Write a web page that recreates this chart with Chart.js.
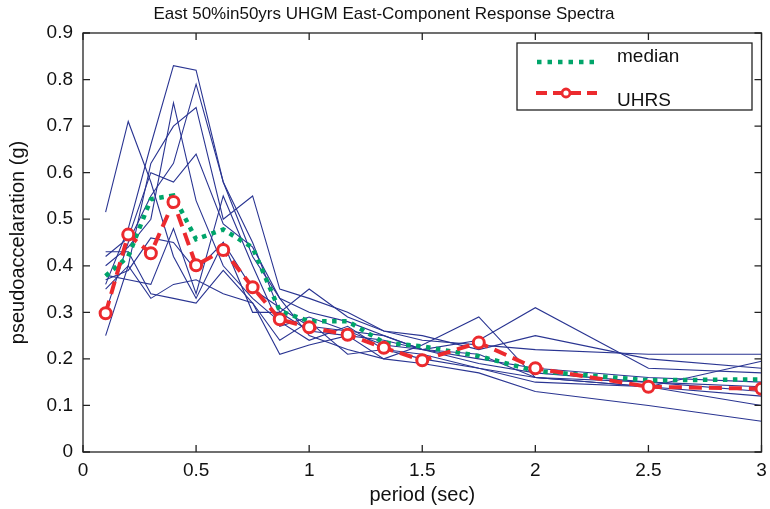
<!DOCTYPE html>
<html>
<head>
<meta charset="utf-8">
<title>East-Component Response Spectra</title>
<script src="https://cdn.jsdelivr.net/npm/chart.js@4.4.1/dist/chart.umd.min.js"></script>
<style>
  html, body { margin: 0; padding: 0; background: #fff; }
  #wrap { width: 770px; height: 509px; }
</style>
</head>
<body>
<div id="wrap"><canvas id="chart" width="770" height="509"></canvas></div>
<script>
// periods (sec) shared by every curve
const periods = [0.1, 0.2, 0.3, 0.4, 0.5, 0.62, 0.75, 0.87, 1.0, 1.17, 1.33, 1.5, 1.75, 2.0, 2.5, 3.0];

// individual ground-motion records (g)
const rec1  = [0.36, 0.48, 0.66, 0.83, 0.82, 0.58, 0.42, 0.33, 0.30, 0.28, 0.25, 0.22, 0.20, 0.18, 0.16, 0.15];
const rec2  = [0.515, 0.71, 0.58, 0.42, 0.33, 0.45, 0.35, 0.31, 0.27, 0.26, 0.23, 0.22, 0.19, 0.17, 0.15, 0.13];
const rec3  = [0.40, 0.44, 0.50, 0.75, 0.54, 0.40, 0.33, 0.28, 0.24, 0.27, 0.22, 0.21, 0.18, 0.16, 0.14, 0.12];
const rec4  = [0.30, 0.45, 0.55, 0.62, 0.79, 0.58, 0.45, 0.30, 0.26, 0.25, 0.24, 0.22, 0.21, 0.16, 0.15, 0.14];
const rec5  = [0.35, 0.40, 0.62, 0.70, 0.74, 0.50, 0.55, 0.35, 0.33, 0.30, 0.26, 0.24, 0.23, 0.22, 0.21, 0.21];
const rec6  = [0.42, 0.46, 0.60, 0.58, 0.64, 0.49, 0.44, 0.33, 0.25, 0.22, 0.20, 0.23, 0.29, 0.16, 0.14, 0.10];
const rec7  = [0.25, 0.40, 0.33, 0.36, 0.37, 0.34, 0.32, 0.21, 0.23, 0.25, 0.20, 0.19, 0.17, 0.13, 0.10, 0.066];
const rec8  = [0.43, 0.43, 0.34, 0.33, 0.32, 0.39, 0.32, 0.24, 0.28, 0.21, 0.22, 0.20, 0.18, 0.15, 0.14, 0.195];
const rec9  = [0.38, 0.37, 0.36, 0.48, 0.34, 0.55, 0.40, 0.27, 0.29, 0.26, 0.25, 0.22, 0.24, 0.31, 0.18, 0.17];
const rec10 = [0.37, 0.39, 0.46, 0.45, 0.39, 0.45, 0.30, 0.30, 0.35, 0.29, 0.26, 0.25, 0.22, 0.25, 0.20, 0.18];
const records = [rec1, rec2, rec3, rec4, rec5, rec6, rec7, rec8, rec9, rec10];

// summary curves
const median = [0.378, 0.42, 0.543, 0.551, 0.457, 0.478, 0.439, 0.303, 0.281, 0.281, 0.235, 0.227, 0.206, 0.174, 0.154, 0.156];
const uhrs   = [0.298, 0.467, 0.427, 0.537, 0.401, 0.434, 0.354, 0.285, 0.268, 0.252, 0.224, 0.197, 0.235, 0.180, 0.140, 0.136];

const xTicks = [0, 0.5, 1, 1.5, 2, 2.5, 3];
const yTicks = [0, 0.1, 0.2, 0.3, 0.4, 0.5, 0.6, 0.7, 0.8, 0.9];

const FONT = '"Liberation Sans", Arial, Helvetica, sans-serif';
const INK = '#111';
const BLUE = '#2a3592';
const GREEN = '#00a56a';
const RED = '#ec2a2e';

function toPoints(vals) {
    return periods.map((p, i) => ({ x: p, y: vals[i] }));
}

/**
 * Frame with inward ticks (matlab-like box)
 */
const boxPlugin = {
    id: 'box',
    afterDatasetsDraw(chart) {
        const { ctx, chartArea: a, scales } = chart;
        ctx.save();
        ctx.strokeStyle = '#222';
        ctx.lineWidth = 1.3;
        ctx.strokeRect(a.left, a.top, a.right - a.left, a.bottom - a.top);
        const len = 7;
        ctx.beginPath();
        xTicks.forEach(v => {
            const px = scales.x.getPixelForValue(v);
            ctx.moveTo(px, a.bottom); ctx.lineTo(px, a.bottom - len);
            ctx.moveTo(px, a.top); ctx.lineTo(px, a.top + len);
        });
        yTicks.forEach(v => {
            const py = scales.y.getPixelForValue(v);
            ctx.moveTo(a.left, py); ctx.lineTo(a.left + len, py);
            ctx.moveTo(a.right, py); ctx.lineTo(a.right - len, py);
        });
        ctx.stroke();
        ctx.restore();
    }
};

/**
 * Legend box in the upper right corner
 */
const legendPlugin = {
    id: 'boxLegend',
    afterDraw(chart) {
        const { ctx } = chart;
        const bx = 517, by = 43, bw = 235, bh = 67;
        ctx.save();
        ctx.fillStyle = '#fff';
        ctx.fillRect(bx, by, bw, bh);
        ctx.strokeStyle = '#222';
        ctx.lineWidth = 1.3;
        ctx.strokeRect(bx, by, bw, bh);

        // median sample
        ctx.strokeStyle = GREEN;
        ctx.lineWidth = 4.5;
        ctx.setLineDash([4.5, 6]);
        ctx.beginPath();
        ctx.moveTo(537, 62); ctx.lineTo(594, 62);
        ctx.stroke();

        // UHRS sample
        ctx.strokeStyle = RED;
        ctx.lineWidth = 4;
        ctx.setLineDash([11, 6]);
        ctx.beginPath();
        ctx.moveTo(536, 93); ctx.lineTo(597, 93);
        ctx.stroke();
        ctx.setLineDash([]);
        ctx.lineWidth = 2.8;
        ctx.fillStyle = '#fff';
        ctx.beginPath();
        ctx.arc(566, 93, 4, 0, Math.PI * 2);
        ctx.fill();
        ctx.stroke();

        ctx.fillStyle = INK;
        ctx.font = '19px ' + FONT;
        ctx.textBaseline = 'middle';
        ctx.textAlign = 'left';
        ctx.fillText('median', 617, 57);
        ctx.fillText('UHRS', 617, 101);
        ctx.restore();
    }
};

const datasets = [
    {
        label: 'UHRS',
        data: toPoints(uhrs),
        borderColor: RED,
        borderWidth: 4,
        borderDash: [13, 7],
        pointRadius: 5.5,
        pointBorderWidth: 3,
        pointBackgroundColor: '#fff',
        pointBorderColor: RED,
        order: 0
    },
    {
        label: 'median',
        data: toPoints(median),
        borderColor: GREEN,
        borderWidth: 4.5,
        borderDash: [4.5, 5.5],
        pointRadius: 0,
        order: 1
    }
];

records.forEach((r, i) => {
    datasets.push({
        label: 'record ' + (i + 1),
        data: toPoints(r),
        borderColor: BLUE,
        borderWidth: 1.1,
        pointRadius: 0,
        order: 2
    });
});

new Chart(document.getElementById('chart'), {
    type: 'line',
    data: { datasets },
    options: {
        responsive: false,
        animation: false,
        layout: { padding: { left: 0, right: 2, top: 0, bottom: 0 } },
        elements: { line: { tension: 0, fill: false } },
        plugins: {
            legend: { display: false },
            tooltip: { enabled: false },
            title: {
                display: true,
                text: 'East 50%in50yrs UHGM East-Component Response Spectra',
                color: INK,
                font: { family: FONT, size: 17, weight: 'normal' },
                padding: { top: 4, bottom: 8.6 }
            }
        },
        scales: {
            x: {
                type: 'linear',
                min: 0,
                max: 3,
                afterFit: s => {
                    s.height = 57;
                    s.paddingLeft = 0;
                    s.paddingRight = 0;
                },
                afterBuildTicks: s => { s.ticks = xTicks.map(v => ({ value: v })); },
                grid: { display: false, drawTicks: false },
                border: { display: false },
                ticks: {
                    color: INK,
                    font: { family: FONT, size: 19 },
                    padding: 7,
                    maxRotation: 0,
                    callback: v => String(v)
                },
                title: {
                    display: true,
                    text: 'period (sec)',
                    color: INK,
                    font: { family: FONT, size: 20 },
                    padding: { top: 2, bottom: 2 }
                }
            },
            y: {
                type: 'linear',
                min: 0,
                max: 0.9,
                afterFit: s => { s.width = 83; },
                afterBuildTicks: s => { s.ticks = yTicks.map(v => ({ value: v })); },
                grid: { display: false, drawTicks: false },
                border: { display: false },
                ticks: {
                    color: INK,
                    font: { family: FONT, size: 19 },
                    padding: 10,
                    callback: v => String(Math.round(v * 10) / 10)
                },
                title: {
                    display: true,
                    text: 'pseudoaccelaration (g)',
                    color: INK,
                    font: { family: FONT, size: 20 },
                    padding: { top: 6, bottom: 0 }
                }
            }
        }
    },
    plugins: [boxPlugin, legendPlugin]
});
</script>
</body>
</html>
